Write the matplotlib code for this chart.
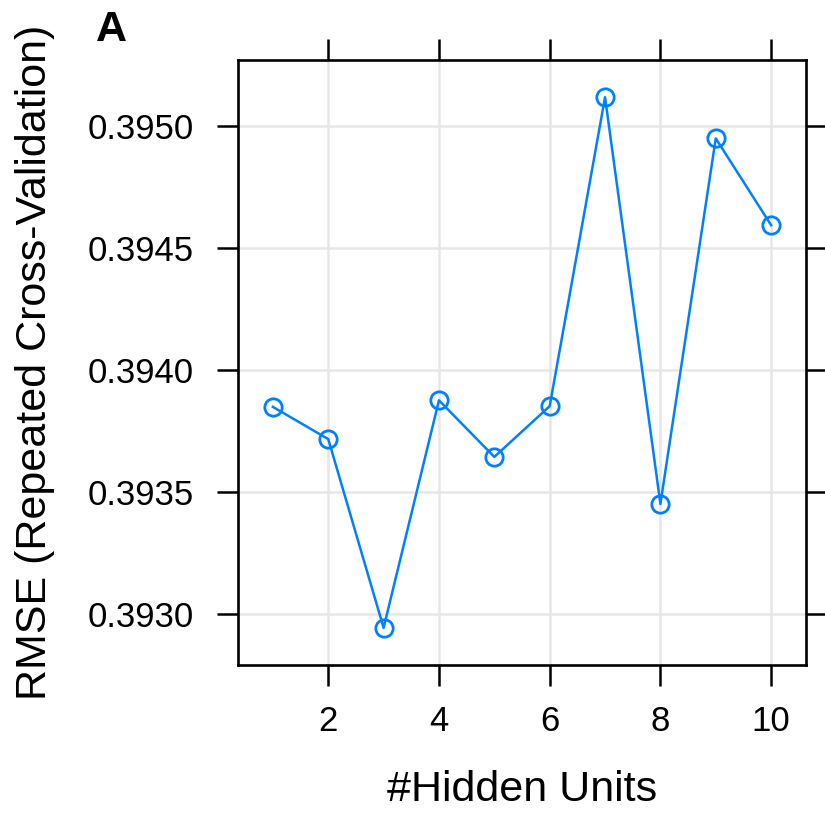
import matplotlib
matplotlib.use("Agg")
import matplotlib.pyplot as plt
import numpy as np

# Tuning results: RMSE by number of hidden units
hidden_units = [1, 2, 3, 4, 5, 6, 7, 8, 9, 10]
rmse = [0.393849, 0.393717, 0.392943, 0.393876, 0.393644,
        0.393852, 0.395119, 0.393451, 0.394950, 0.394594]
x_ticks = [2, 4, 6, 8, 10]
y_ticks = [0.3930, 0.3935, 0.3940, 0.3945, 0.3950]
y_tick_labels = ["0.3930", "0.3935", "0.3940", "0.3945", "0.3950"]

plt.rcParams['font.family'] = ['Liberation Sans', 'DejaVu Sans']

W, H = 825, 814
fig = plt.figure(figsize=(W / 100, H / 100), dpi=100)
ax = fig.add_axes([238 / W, 1 - 665 / H, (806 - 238) / W, (665 - 60) / H])

blue = "#0080FF"
ax.plot(hidden_units, rmse, color=blue, lw=1.8, marker="o", markersize=12.5,
        markerfacecolor="none", markeredgecolor=blue, markeredgewidth=2.0,
        zorder=3)

# lattice-style padding: 7% of data range on each side
def padded(vals, frac=0.07):
    lo, hi = min(vals), max(vals)
    r = hi - lo
    return lo - frac * r, hi + frac * r

ax.set_xlim(*padded(hidden_units))
ax.set_ylim(*padded(rmse))

ax.set_xticks(x_ticks)
ax.set_xticklabels([str(t) for t in x_ticks])
ax.set_yticks(y_ticks)
ax.set_yticklabels(y_tick_labels)

ax.grid(True, color="#E6E6E6", lw=1.8, zorder=0)
ax.set_axisbelow(True)

for s in ax.spines.values():
    s.set_linewidth(1.9)
    s.set_color("black")

ax.tick_params(axis="both", which="both", direction="out", length=15, width=1.8,
               labelsize=25, top=True, right=True, labeltop=False,
               labelright=False)
ax.tick_params(axis="y", pad=17)
ax.tick_params(axis="x", pad=14)

fig.text(35 / W, 1 - 362 / H, "RMSE (Repeated Cross-Validation)", rotation=90,
         ha="center", va="center", fontsize=31)
fig.text(522 / W, 1 - 790 / H, "#Hidden Units", ha="center", va="center",
         fontsize=31)
fig.text(96 / W, 1 - 30 / H, "A", ha="left", va="center", fontsize=31,
         fontweight="bold")

fig.savefig("out.png", dpi=100, facecolor="white")
